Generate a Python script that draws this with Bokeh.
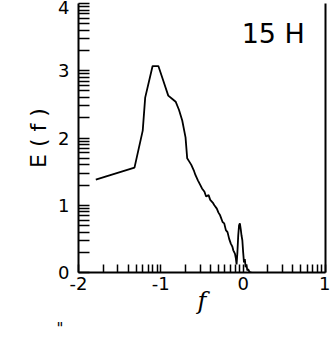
import math
from bokeh.plotting import figure
from bokeh.models import FixedTicker, LinearAxis, Label, Range1d, Title
from bokeh.embed import file_html
from bokeh.resources import INLINE

# data
f_vals = [-1.79, -1.32, -1.22, -1.19, -1.10, -1.03, -0.97, -0.91, -0.86, -0.82, -0.78,
          -0.74, -0.70, -0.68, -0.66, -0.63, -0.60, -0.58, -0.55, -0.52, -0.50, -0.47,
          -0.45, -0.42, -0.40, -0.37, -0.35, -0.32, -0.30, -0.28, -0.25, -0.23, -0.21,
          -0.19, -0.17, -0.15, -0.13, -0.12, -0.10, -0.09, -0.08, -0.07, -0.06, -0.05,
          -0.04, -0.03, -0.02, -0.01, 0.00, 0.01, 0.02, 0.03, 0.04, 0.05, 0.06, 0.08, 0.10]
e_vals = [1.38, 1.56, 2.11, 2.60, 3.07, 3.07, 2.85, 2.63, 2.58, 2.54, 2.42,
          2.26, 2.01, 1.70, 1.66, 1.60, 1.52, 1.45, 1.37, 1.30, 1.25, 1.20,
          1.13, 1.15, 1.08, 1.04, 1.00, 0.95, 0.89, 0.85, 0.75, 0.73, 0.63,
          0.60, 0.50, 0.43, 0.38, 0.33, 0.28, 0.22, 0.12, 0.30, 0.55, 0.70,
          0.73, 0.65, 0.55, 0.48, 0.30, 0.15, 0.20, 0.08, 0.12, 0.03, 0.05, 0.00, 0.00]

x_ticks = [-2, -1, 0, 1]
x_tick_labels = {-2: "-2", -1: "-1", 0: "0", 1: "1"}
y_ticks = [0, 1, 2, 3, 4]
y_tick_labels = {0: "0", 1: "1", 2: "2", 3: "3", 4: "4"}
panel_label = "15 H"
x_title = "f"
y_title = "E ( f )"
stray_mark = '"'

def log_minor(majors):
    out = []
    for n in majors[:-1]:
        for k in range(2, 10):
            out.append(n + math.log10(k))
    return out

FONT = "DejaVu Sans"

p = figure(width=330, height=338, output_backend="svg", toolbar_location=None,
           x_range=Range1d(-2, 1), y_range=Range1d(0, 4),
           x_axis_location=None, y_axis_location=None,
           min_border_left=78, min_border_right=5, min_border_top=3, min_border_bottom=66)
p.outline_line_color = None
p.xgrid.visible = False
p.ygrid.visible = False
p.background_fill_color = "white"
p.border_fill_color = "white"

xax = LinearAxis(ticker=FixedTicker(ticks=x_ticks, minor_ticks=log_minor(x_ticks)),
                 major_label_overrides=x_tick_labels)
yax = LinearAxis(ticker=FixedTicker(ticks=y_ticks, minor_ticks=log_minor(y_ticks)),
                 major_label_overrides=y_tick_labels)
for ax, tin in ((xax, 8), (yax, 11)):
    ax.axis_line_color = "black"
    ax.axis_line_width = 2
    ax.major_tick_in = tin
    ax.major_tick_out = 0
    ax.minor_tick_in = tin
    ax.minor_tick_out = 0
    ax.major_tick_line_width = 1.5
    ax.minor_tick_line_width = 1.5
    ax.major_tick_line_color = "black"
    ax.minor_tick_line_color = "black"
    ax.major_label_text_font = FONT
    ax.major_label_text_font_size = "18px"
    ax.major_label_text_color = "black"
    ax.axis_label_text_color = "black"
    ax.axis_label_text_font_style = "normal"
xax.major_label_standoff = 4
yax.major_label_standoff = 9
xax.axis_label = x_title
xax.axis_label_text_font = "DejaVu Serif"
xax.axis_label_text_font_style = "italic"
xax.axis_label_text_font_size = "24px"
xax.axis_label_standoff = -6
yax.axis_label = y_title
yax.axis_label_text_font = FONT
yax.axis_label_text_font_size = "22px"
yax.axis_label_standoff = 4
p.add_layout(xax, "below")
p.add_layout(yax, "left")

rax = LinearAxis(ticker=FixedTicker(ticks=[]), major_label_text_font_size="0px")
rax.axis_line_width = 2
rax.axis_line_color = "black"
rax.major_tick_line_color = None
rax.minor_tick_line_color = None
p.add_layout(rax, "right")

p.line(f_vals, e_vals, line_color="black", line_width=1.8)

p.add_layout(Label(x=0.75, y=3.55, text=panel_label, text_font=FONT,
                   text_font_size="27px", text_align="right", text_baseline="middle",
                   text_color="black"))
p.add_layout(Title(text=stray_mark, align="left", offset=-22, standoff=0,
                   text_font=FONT, text_font_size="15px", text_font_style="normal",
                   text_color="black"), "below")

open("out.html", "w").write(file_html(p, INLINE))
